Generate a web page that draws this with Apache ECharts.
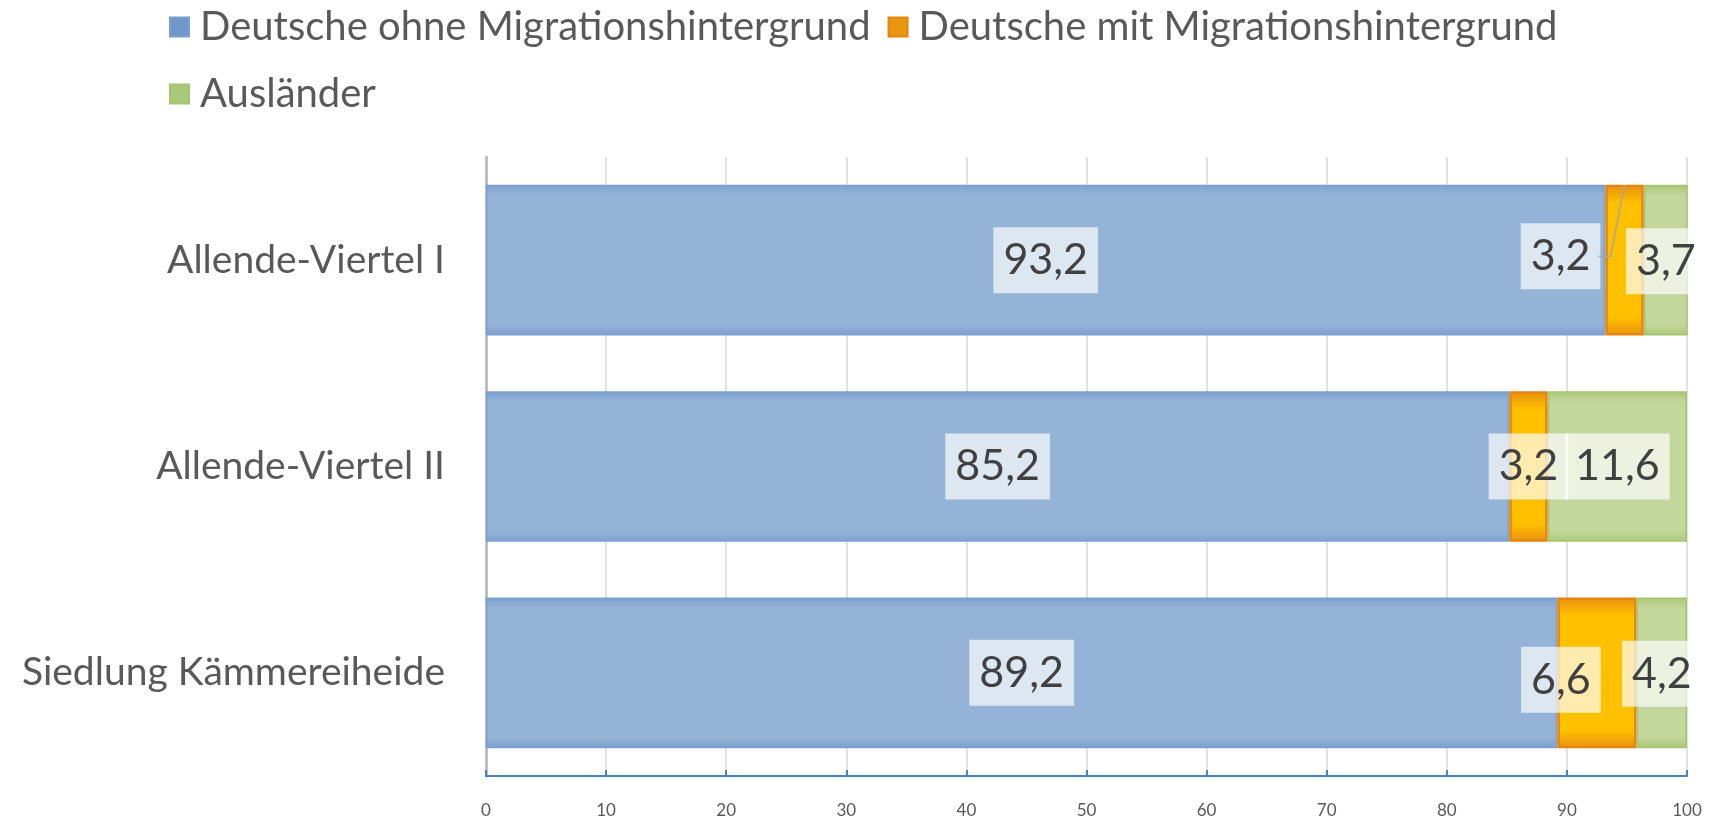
<!DOCTYPE html>
<html>
<head>
<meta charset="utf-8">
<script src="https://cdn.jsdelivr.net/npm/echarts@6/dist/echarts.min.js"></script>
<style>
  html, body { margin: 0; padding: 0; background: #fff; }
  #chart { width: 1721px; height: 819px; }
</style>
</head>
<body>
<div id="chart"></div>
<script>
// Daten
var categories = ['Allende-Viertel I', 'Allende-Viertel II', 'Siedlung Kämmereiheide'];
var seriesNames = ['Deutsche ohne Migrationshintergrund', 'Deutsche mit Migrationshintergrund', 'Ausländer'];
var ohneMig = [93.2, 85.2, 89.2];
var mitMig = [3.2, 3.2, 6.6];
var auslaender = [3.7, 11.6, 4.2];
var xTicks = [0, 10, 20, 30, 40, 50, 60, 70, 80, 90, 100];

// Verschobene Beschriftungen (wie in Excel), key = serie-datenpunkt
var labelShift = {
  '1-0': { dx: -64, dy: -4 },
  '1-2': { dx: -36, dy: 7 },
  '2-0': { dx: 0, dy: 1 },
  '2-2': { dx: 0, dy: 1 }
};

var fontFam = 'Lato, "Open Sans", sans-serif';

function vgrad(edge, mid, w) {
  return new echarts.graphic.LinearGradient(0, 0, 0, 1, [
    { offset: 0, color: edge },
    { offset: w, color: mid },
    { offset: 1 - w, color: mid },
    { offset: 1, color: edge }
  ]);
}

var styles = [
  { fill: vgrad('#7BA0CE', '#95B3D7', 0.07), border: '#7CA0CE', bw: 1.5, legend: '#6F97CB' },
  { fill: vgrad('#E8900F', '#FFC000', 0.12), border: '#E4850F', bw: 2.5, legend: '#E8950F' },
  { fill: vgrad('#ABC777', '#C3D69B', 0.07), border: '#A6C36F', bw: 1.5, legend: '#A9C97A' }
];

var allValues = [ohneMig, mitMig, auslaender];
var serieData = [];
for (var s = 0; s < allValues.length; s++) {
  serieData.push({
    name: seriesNames[s],
    type: 'bar',
    stack: 'total',
    barCategoryGap: '27%',
    data: allValues[s],
    itemStyle: { color: styles[s].fill, borderColor: styles[s].border, borderWidth: styles[s].bw },
    label: {
      show: true,
      position: 'inside',
      formatter: function (p) { return String(p.value).replace('.', ','); },
      color: '#404040',
      fontFamily: fontFam,
      fontSize: 43,
      lineHeight: 50,
      backgroundColor: 'rgba(255,255,255,0.68)',
      padding: [8, 10]
    },
    labelLayout: function (p) {
      var sh = labelShift[p.seriesIndex + '-' + p.dataIndex];
      if (sh) {
        return { dx: sh.dx, dy: sh.dy };
      }
      return {};
    }
  });
}

var myChart = echarts.init(document.getElementById('chart'));
var option = {
  animation: false,
  color: [styles[0].legend, styles[1].legend, styles[2].legend],
  legend: {
    left: 164, top: -3, width: 1480,
    icon: 'rect', itemWidth: 19, itemHeight: 19, itemGap: 17,
    data: seriesNames.map(function (n, i) { return { name: n, itemStyle: { color: styles[i].legend } }; }),
    textStyle: { color: '#595959', fontFamily: fontFam, fontSize: 40, lineHeight: 50, padding: [0, 0, 0, 6] }
  },
  grid: { left: 486, right: 34, top: 157, bottom: 42 },
  xAxis: {
    type: 'value', min: xTicks[0], max: xTicks[xTicks.length - 1], interval: 10,
    axisLine: { show: true, lineStyle: { color: '#4F81BD', width: 2 } },
    axisTick: { show: true, inside: true, length: 6, lineStyle: { color: '#4F81BD', width: 2 } },
    axisLabel: { color: '#595959', fontFamily: fontFam, fontSize: 17, margin: 26 },
    splitLine: { show: true, lineStyle: { color: '#D9D9D9', width: 1.5 } }
  },
  yAxis: {
    type: 'category', inverse: true, data: categories,
    axisLine: { show: true, lineStyle: { color: '#BFBFBF', width: 3 } },
    axisTick: { show: false },
    axisLabel: { color: '#595959', fontFamily: fontFam, fontSize: 39, margin: 41 }
  },
  series: serieData
};
myChart.setOption(option);

// Führungslinie für die verschobene Beschriftung (Serie 1, Punkt 0)
var lay = myChart.getModel().getSeriesByIndex(1).getData().getItemLayout(0);
if (lay) {
  var cx = lay.x + lay.width / 2;
  var cy = lay.y + lay.height / 2 + labelShift['1-0'].dy;
  var lx = cx + labelShift['1-0'].dx + 38;
  myChart.setOption({
    graphic: [{
      type: 'polyline', z: 100,
      shape: { points: [[lx, cy], [cx - 14, cy], [cx, lay.y]] },
      style: { stroke: '#A6A6A6', lineWidth: 1.5, fill: null }
    }]
  });
}
</script>
</body>
</html>
